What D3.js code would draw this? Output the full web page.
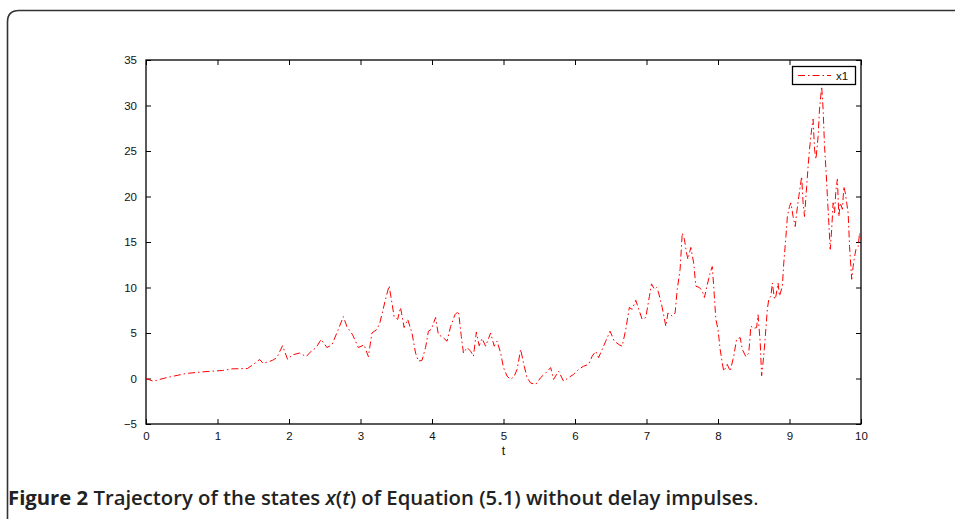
<!DOCTYPE html>
<html>
<head>
<meta charset="utf-8">
<script src="https://cdn.jsdelivr.net/npm/d3@7"></script>
<style>
  body { margin: 0; background: #fff; }
  svg { display: block; }
  .tick text { font-family: "Liberation Sans", Arial, sans-serif; font-size: 11.5px; fill: #111; }
</style>
</head>
<body>
<svg id="chart" width="955" height="519"></svg>
<script>
// time samples (t) and state x1
var tValues = [
  0, 0.1, 0.28, 0.56, 0.79, 1.07, 1.2, 1.42, 1.5, 1.59, 1.64, 1.77, 1.83, 1.91, 1.98,
  2.05, 2.15, 2.24, 2.31, 2.38, 2.45, 2.53, 2.6, 2.69, 2.76, 2.81, 2.89, 2.97,
  3.05, 3.11, 3.16, 3.23, 3.27, 3.31, 3.35, 3.4, 3.44, 3.47, 3.52, 3.56, 3.61, 3.66, 3.72, 3.77, 3.81, 3.86, 3.91, 3.95, 3.99,
  4.05, 4.09, 4.14, 4.21, 4.26, 4.32, 4.37, 4.41, 4.44, 4.49, 4.54, 4.58, 4.62, 4.66, 4.7, 4.75, 4.82, 4.87, 4.91, 4.96,
  5.0, 5.05, 5.1, 5.15, 5.19, 5.24, 5.29, 5.33, 5.38, 5.45, 5.52, 5.59, 5.66, 5.7, 5.77, 5.84, 5.91, 5.98,
  6.05, 6.12, 6.19, 6.24, 6.29, 6.33, 6.38, 6.43, 6.49, 6.55, 6.62, 6.66, 6.71, 6.76, 6.8, 6.85, 6.9, 6.94, 6.99,
  7.04, 7.07, 7.11, 7.14, 7.17, 7.22, 7.27, 7.3, 7.36, 7.4, 7.43, 7.47, 7.5, 7.53, 7.56, 7.58, 7.62, 7.66, 7.69,
  7.74, 7.78, 7.81, 7.85, 7.89, 7.92, 7.94, 7.97,
  8.0, 8.03, 8.06, 8.08, 8.13, 8.17, 8.22, 8.26, 8.31, 8.34, 8.39, 8.43, 8.46, 8.5, 8.54, 8.56, 8.59, 8.61, 8.64,
  8.67, 8.69, 8.71, 8.74, 8.76, 8.79, 8.81, 8.84, 8.86, 8.9, 8.92, 8.95, 8.97,
  9.0, 9.02, 9.05, 9.08, 9.1, 9.13, 9.17, 9.19, 9.21, 9.24, 9.26, 9.28, 9.31, 9.33, 9.35, 9.37, 9.4, 9.42, 9.45,
  9.47, 9.49, 9.51, 9.53, 9.55, 9.57, 9.59, 9.61, 9.63, 9.65, 9.67, 9.69, 9.71, 9.74, 9.76, 9.78, 9.8, 9.82,
  9.84, 9.87, 9.89, 9.91, 9.93, 9.96, 9.98, 10
];
var x1Values = [
  0, -0.3, 0.08, 0.55, 0.73, 0.88, 1.06, 1.1, 1.54, 2.09, 1.65, 2.0, 2.3, 3.6, 2.1,
  2.6, 2.8, 2.4, 3.0, 3.4, 4.3, 3.4, 3.7, 5.4, 6.8, 5.7, 4.8, 3.4,
  3.7, 2.4, 5.0, 5.4, 6.1, 7.4, 8.7, 10.2, 8.3, 6.8, 6.5, 7.8, 5.6, 6.5, 5.0, 2.8, 1.9, 2.0, 3.4, 5.2, 5.4,
  6.7, 4.8, 4.6, 4.1, 5.7, 7.0, 7.4, 4.6, 2.8, 3.4, 3.0, 2.45, 5.1, 3.6, 4.4, 3.55, 5.0, 3.55, 4.1, 2.8,
  1.2, 0.25, -0.1, 0.25, 1.0, 3.2, 1.35, 0.1, -0.5, -0.65, 0.1, 0.6, 1.2, -0.1, 0.8, -0.3, 0.1, 0.45,
  1.0, 1.35, 1.55, 2.45, 3.0, 2.3, 3.2, 4.1, 5.2, 4.1, 3.7, 3.55, 5.4, 7.8, 7.6, 8.6, 7.4, 6.5, 6.7,
  9.0, 10.4, 9.8, 10.0, 9.4, 7.8, 5.75, 7.2, 6.85, 7.2, 9.8, 12.0, 16.0, 15.3, 13.8, 13.1, 14.4, 12.7, 10.15,
  10.0, 9.6, 8.9, 10.3, 11.6, 12.3, 10.1, 6.5,
  5.4, 3.2, 1.7, 0.8, 1.55, 0.8, 2.45, 4.3, 4.5, 3.2, 2.4, 2.8, 5.75, 5.5, 5.6, 7.0, 4.0, 0.3, 2.5,
  5.5, 7.6, 8.7, 9.05, 10.5, 8.7, 9.05, 10.5, 9.05, 10.15, 12.7, 15.6, 17.8,
  18.9, 19.3, 17.8, 16.7, 18.2, 20.0, 22.2, 19.3, 17.8, 21.1, 23.3, 25.2, 27.4, 28.5, 25.2, 24.1, 26.6, 29.6, 32.1,
  29.6, 25.5, 23.0, 20.0, 17.1, 14.2, 16.4, 19.3, 18.2, 20.8, 21.9, 17.8, 19.3, 18.6, 21.1, 20.4, 19.3, 18.2,
  14.5, 10.9, 12.3, 13.4, 14.2, 14.5, 16.0, 15.3
];
var xTicks = [0, 1, 2, 3, 4, 5, 6, 7, 8, 9, 10];
var yTicks = [-5, 0, 5, 10, 15, 20, 25, 30, 35];
var seriesName = "x1";

var svg = d3.select("#chart");
var plot = { left: 146, right: 861, top: 60, bottom: 424 };

var x = d3.scaleLinear().domain([0, 10]).range([plot.left, plot.right]);
var y = d3.scaleLinear().domain([-5, 35]).range([plot.bottom, plot.top]);

// outer figure frame
svg.append("path")
    .attr("d", "M7.5,530 L7.5,22 Q7.5,10.5 19,10.5 L960,10.5")
    .attr("fill", "none")
    .attr("stroke", "#333")
    .attr("stroke-width", 1.6);

// axes with inward ticks on all four sides
function styleAxis(g) {
    g.select(".domain").remove();
    g.selectAll(".tick line").attr("stroke", "#000").attr("stroke-width", 1);
}
svg.append("g").attr("transform", "translate(0," + plot.bottom + ")")
    .call(d3.axisBottom(x).tickValues(xTicks).tickSizeInner(-5).tickPadding(8).tickFormat(d3.format("d")))
    .call(styleAxis);
svg.append("g").attr("transform", "translate(0," + plot.top + ")")
    .call(d3.axisTop(x).tickValues(xTicks).tickSizeInner(-5).tickFormat(""))
    .call(styleAxis);
svg.append("g").attr("transform", "translate(" + plot.left + ",0)")
    .call(d3.axisLeft(y).tickValues(yTicks).tickSizeInner(-5).tickPadding(9).tickFormat(function (d) { return d < 0 ? "\u2212" + Math.abs(d) : d; }))
    .call(styleAxis);
svg.append("g").attr("transform", "translate(" + plot.right + ",0)")
    .call(d3.axisRight(y).tickValues(yTicks).tickSizeInner(-5).tickFormat(""))
    .call(styleAxis);

svg.append("rect")
    .attr("x", plot.left).attr("y", plot.top)
    .attr("width", plot.right - plot.left).attr("height", plot.bottom - plot.top)
    .attr("fill", "none").attr("stroke", "#000").attr("stroke-width", 1.3);

svg.append("text")
    .attr("x", (plot.left + plot.right) / 2).attr("y", 455)
    .attr("text-anchor", "middle")
    .style("font-family", "Liberation Sans, Arial, sans-serif")
    .style("font-size", "12.5px")
    .style("fill", "#111")
    .text("t");

// trajectory
var line = d3.line()
    .x(function (d, i) { return x(tValues[i]); })
    .y(function (d) { return y(d); });

svg.append("path")
    .datum(x1Values)
    .attr("d", line)
    .attr("fill", "none")
    .attr("stroke", "#ff0000")
    .attr("stroke-width", 1)
    .attr("stroke-dasharray", "7,3,1.5,3");

// legend
var legend = svg.append("g").attr("transform", "translate(792,66)");
legend.append("rect")
    .attr("x", 0.5).attr("y", 0.5).attr("width", 63).attr("height", 18)
    .attr("fill", "#fff").attr("stroke", "#000").attr("stroke-width", 1.3);
legend.append("line")
    .attr("x1", 6).attr("x2", 39).attr("y1", 9.5).attr("y2", 9.5)
    .attr("stroke", "#ff0000").attr("stroke-width", 1)
    .attr("stroke-dasharray", "7,3,1.5,3");
legend.append("text")
    .attr("x", 44).attr("y", 13.5)
    .style("font-family", "Liberation Sans, Arial, sans-serif")
    .style("font-size", "11.5px")
    .style("fill", "#111")
    .text(seriesName);

// caption
var caption = svg.append("text")
    .attr("x", 8).attr("y", 505)
    .style("font-family", "Open Sans, sans-serif")
    .style("font-size", "20.3px")
    .style("fill", "#222");
caption.append("tspan").style("font-weight", "700").text("Figure 2 ");
caption.append("tspan").style("font-weight", "600").text("Trajectory of the states ");
caption.append("tspan").style("font-weight", "600").style("font-style", "italic").text("x");
caption.append("tspan").style("font-weight", "600").text("(");
caption.append("tspan").style("font-weight", "600").style("font-style", "italic").text("t");
caption.append("tspan").style("font-weight", "600").text(") of Equation (5.1) without delay impulses");
caption.append("tspan").style("font-weight", "400").text(".");
</script>
</body>
</html>
